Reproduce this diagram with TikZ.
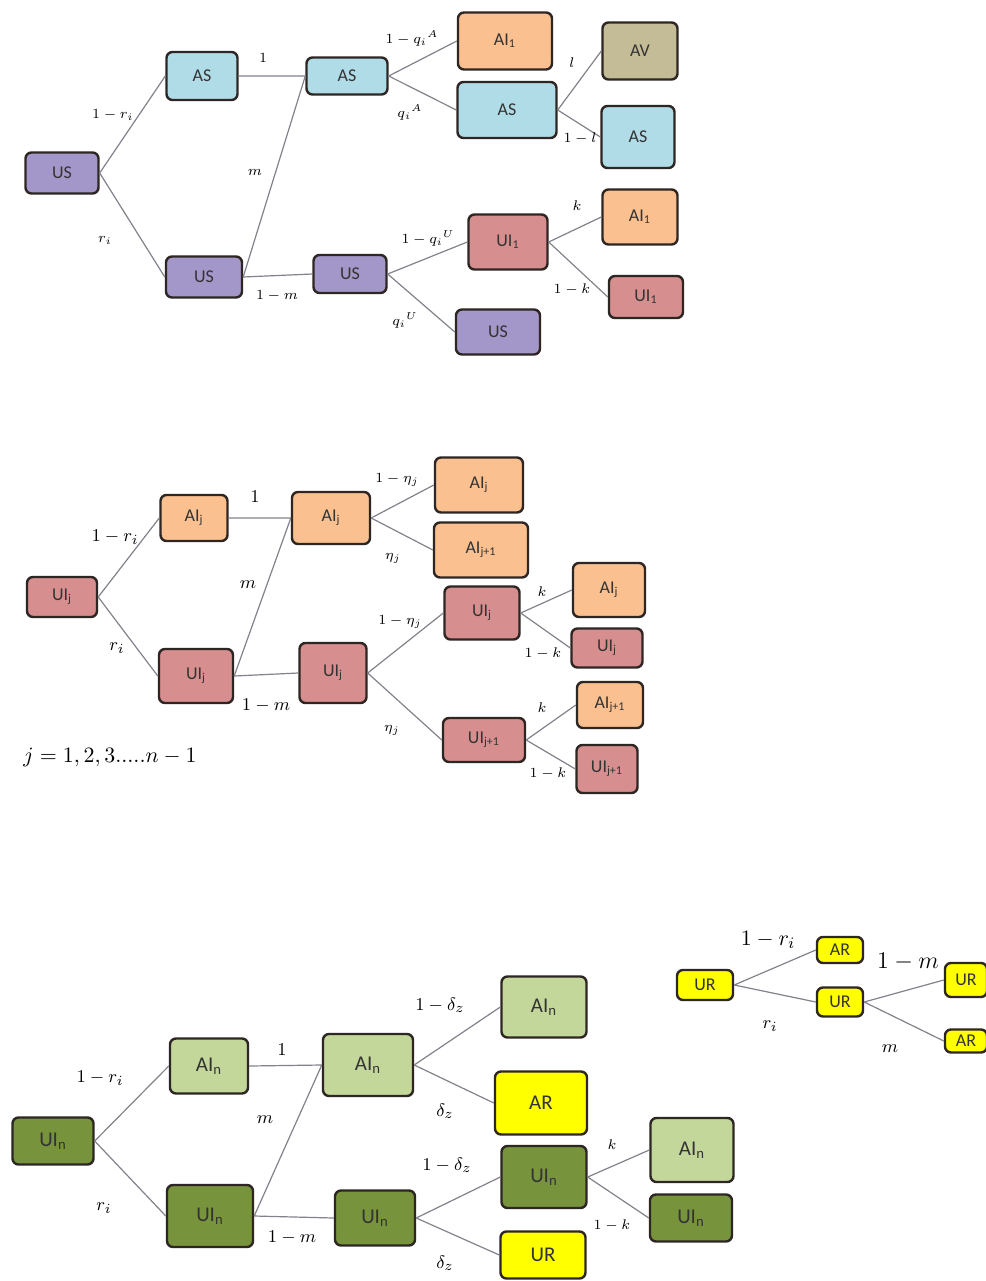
\documentclass[tikz,border=0pt]{standalone}
\usepackage{fontspec}
\setsansfont{Carlito}
\usepackage{amsmath}
\usetikzlibrary{positioning}
\definecolor{usfill}{RGB}{163,150,200}
\definecolor{asfill}{RGB}{176,220,232}
\definecolor{aifill}{RGB}{250,192,144}
\definecolor{uifill}{RGB}{214,142,142}
\definecolor{avfill}{RGB}{196,188,150}
\definecolor{gdfill}{RGB}{119,147,60}
\definecolor{glfill}{RGB}{196,215,155}
\definecolor{yrfill}{RGB}{255,255,0}
\definecolor{edgegray}{RGB}{130,130,140}
\definecolor{boxline}{RGB}{45,38,35}

\tikzset{
  box/.style={draw=boxline, line width=1.2pt, rounded corners=3pt, inner sep=0pt,
    text=black!80, font=\sffamily\fontsize{9}{10}\selectfont},
  sz/.style 2 args={minimum width=#1*0.5pt, minimum height=#2*0.5pt},
  usbox/.style={box, fill=usfill},
  asbox/.style={box, fill=asfill},
  aibox/.style={box, fill=aifill},
  uibox/.style={box, fill=uifill},
  avbox/.style={box, fill=avfill},
  gdbox/.style={box, fill=gdfill, font=\sffamily\fontsize{10.5}{12}\selectfont},
  glbox/.style={box, fill=glfill, font=\sffamily\fontsize{10.5}{12}\selectfont},
  yrbox/.style={box, fill=yrfill, font=\sffamily\fontsize{10.5}{12}\selectfont},
  branch/.style={edgegray, line width=0.6pt},
  lbl/.style={inner sep=0pt, font=\fontsize{7.5}{9}\selectfont},
  biglbl/.style={inner sep=0pt, font=\fontsize{9.5}{11}\selectfont},
}

\begin{document}
\begin{tikzpicture}[x=0.5pt, y=-0.5pt]
  \useasboundingbox (0,0) rectangle (986,1281);
  \fill[white] (0,0) rectangle (986,1281);

  % Susceptible tree
  \node[usbox, sz={73}{41}] (us0) at (62,173) {US};
  \node[asbox, sz={71}{48}] (as1) at (202,76) {AS};
  \node[usbox, sz={76}{41}] (us1) at (204,277) {US};
  \node[asbox, sz={81}{37}] (as2) at (347,76) {AS};
  \node[usbox, sz={73}{38}] (us2) at (350,274) {US};
  \node[aibox, sz={94}{57}] (ai3) at (505,41) {AI\textsubscript{1}};
  \node[asbox, sz={99}{56}] (as3) at (507,110) {AS};
  \node[uibox, sz={79}{55}] (ui3) at (508,242) {UI\textsubscript{1}};
  \node[usbox, sz={84}{45}] (us3) at (498,332) {US};
  \node[avbox, sz={75}{57}] (av4) at (640,51) {AV};
  \node[asbox, sz={73}{62}] (as4) at (638,137) {AS};
  \node[aibox, sz={75}{55}] (ai4) at (640,217) {AI\textsubscript{1}};
  \node[uibox, sz={74}{42}] (ui4) at (646,297) {UI\textsubscript{1}};
  \draw[branch] (us0.east) -- (as1.west) (us0.east) -- (us1.west);
  \draw[branch] (as1.east) -- (as2.west) (us1.east) -- (as2.west) (us1.east) -- (us2.west);
  \draw[branch] (as2.east) -- (ai3.west) (as2.east) -- (as3.west);
  \draw[branch] (us2.east) -- (ui3.west) (us2.east) -- (us3.west);
  \draw[branch] (as3.east) -- (av4.west) (as3.east) -- (as4.west);
  \draw[branch] (ui3.east) -- (ai4.west) (ui3.east) -- (ui4.west);
  \node[lbl] (sa) at (113,115) {$1-r_i$};
  \node[lbl] (sb) at (105,240) {$r_i$};
  \node[lbl] (sc) at (263,58) {$1$};
  \node[lbl] (sd) at (255,172) {$m$};
  \node[lbl] (se) at (277,296) {$1-m$};
  \node[lbl] (sf) at (412,38) {$1-{q_i}^{A}$};
  \node[lbl] (sg) at (410,112) {${q_i}^{A}$};
  \node[lbl] (sh) at (428,238) {$1-{q_i}^{U}$};
  \node[lbl] (si) at (405,320) {${q_i}^{U}$};
  \node[lbl] (sj) at (572,63) {$l$};
  \node[lbl] (sk) at (580,138) {$1-l$};
  \node[lbl] (sl) at (577,206) {$k$};
  \node[lbl] (sm) at (572,289) {$1-k$};

  % Infected tree, stage j
  \node[uibox, sz={70}{40}] (uj0) at (62,597) {UI\textsubscript{j}};
  \node[aibox, sz={67}{46}] (aj1) at (194,518) {AI\textsubscript{j}};
  \node[uibox, sz={74}{54}] (uj1) at (196,676) {UI\textsubscript{j}};
  \node[aibox, sz={78}{52}] (aj2) at (331,518) {AI\textsubscript{j}};
  \node[uibox, sz={67}{60}] (uj2) at (333,673) {UI\textsubscript{j}};
  \node[aibox, sz={88}{55}] (aj3) at (479,485) {AI\textsubscript{j}};
  \node[aibox, sz={94}{55}] (ak3) at (481,550) {AI\textsubscript{j+1}};
  \node[uibox, sz={75}{53}] (uj3) at (482,613) {UI\textsubscript{j}};
  \node[uibox, sz={82}{44}] (uk3) at (484,740) {UI\textsubscript{j+1}};
  \node[aibox, sz={72}{54}] (aj4) at (609,590) {AI\textsubscript{j}};
  \node[uibox, sz={71}{39}] (uj4) at (607,648) {UI\textsubscript{j}};
  \node[aibox, sz={66}{46}] (ak4) at (610,705) {AI\textsubscript{j+1}};
  \node[uibox, sz={61}{48}] (uk4) at (607,769) {UI\textsubscript{j+1}};
  \draw[branch] (uj0.east) -- (aj1.west) (uj0.east) -- (uj1.west);
  \draw[branch] (aj1.east) -- (aj2.west) (uj1.east) -- (aj2.west) (uj1.east) -- (uj2.west);
  \draw[branch] (aj2.east) -- (aj3.west) (aj2.east) -- (ak3.west);
  \draw[branch] (uj2.east) -- (uj3.west) (uj2.east) -- (uk3.west);
  \draw[branch] (uj3.east) -- (aj4.west) (uj3.east) -- (uj4.west);
  \draw[branch] (uk3.east) -- (ak4.west) (uk3.east) -- (uk4.west);
  \node[biglbl] (ja) at (115,537) {$1-r_i$};
  \node[biglbl] (jb) at (117,648) {$r_i$};
  \node[biglbl] (jc) at (255,497) {$1$};
  \node[biglbl] (jd) at (248,585) {$m$};
  \node[biglbl] (je) at (266,706) {$1-m$};
  \node[lbl] (jf) at (397,480) {$1-\eta_j$};
  \node[lbl] (jg) at (393,558) {$\eta_j$};
  \node[lbl] (jh) at (400,622) {$1-\eta_j$};
  \node[lbl] (ji) at (392,730) {$\eta_j$};
  \node[lbl] (jk) at (542,592) {$k$};
  \node[lbl] (jl) at (543,653) {$1-k$};
  \node[lbl] (jm) at (542,708) {$k$};
  \node[lbl] (jn) at (548,773) {$1-k$};
  \node[inner sep=0pt, font=\fontsize{11}{13}\selectfont] (jrange) at (110,757) {$j=1,2,3.....n-1$};

  % Infected tree, last stage n
  \node[gdbox, sz={81}{47}] (un0) at (53,1141) {UI\textsubscript{n}};
  \node[glbox, sz={78}{55}] (an1) at (209,1066) {AI\textsubscript{n}};
  \node[gdbox, sz={86}{62}] (un1) at (210,1216) {UI\textsubscript{n}};
  \node[glbox, sz={90}{62}] (an2) at (368,1065) {AI\textsubscript{n}};
  \node[gdbox, sz={80}{55}] (un2) at (375,1218) {UI\textsubscript{n}};
  \node[glbox, sz={85}{61}] (an3) at (544,1007) {AI\textsubscript{n}};
  \node[yrbox, sz={92}{63}] (ar3) at (541,1103) {AR};
  \node[gdbox, sz={85}{62}] (un3) at (544,1177) {UI\textsubscript{n}};
  \node[yrbox, sz={85}{47}] (ur3) at (543,1255) {UR};
  \node[glbox, sz={83}{64}] (an4) at (692,1150) {AI\textsubscript{n}};
  \node[gdbox, sz={82}{47}] (un4) at (691,1218) {UI\textsubscript{n}};
  \draw[branch] (un0.east) -- (an1.west) (un0.east) -- (un1.west);
  \draw[branch] (an1.east) -- (an2.west) (un1.east) -- (an2.west) (un1.east) -- (un2.west);
  \draw[branch] (an2.east) -- (an3.west) (an2.east) -- (ar3.west);
  \draw[branch] (un2.east) -- (un3.west) (un2.east) -- (ur3.west);
  \draw[branch] (un3.east) -- (an4.west) (un3.east) -- (un4.west);
  \node[biglbl] (na) at (100,1078) {$1-r_i$};
  \node[biglbl] (nb) at (104,1208) {$r_i$};
  \node[biglbl] (nc) at (282,1050) {$1$};
  \node[biglbl] (nd) at (265,1120) {$m$};
  \node[biglbl] (ne) at (292,1238) {$1-m$};
  \node[biglbl] (nf) at (440,1005) {$1-\delta_z$};
  \node[biglbl] (ng) at (445,1111) {$\delta_z$};
  \node[biglbl] (nh) at (447,1165) {$1-\delta_z$};
  \node[biglbl] (ni) at (445,1263) {$\delta_z$};
  \node[lbl] (nk) at (612,1145) {$k$};
  \node[lbl] (nl) at (612,1225) {$1-k$};

  % Recovered tree
  \node[yrbox, sz={56}{30}, font=\sffamily\fontsize{9}{10}\selectfont] (ur0) at (705,985) {UR};
  \node[yrbox, sz={46}{26}, font=\sffamily\fontsize{9}{10}\selectfont] (ar1) at (840,950) {AR};
  \node[yrbox, sz={46}{29}, font=\sffamily\fontsize{9}{10}\selectfont] (ur1) at (840,1002) {UR};
  \node[yrbox, sz={42}{34}, font=\sffamily\fontsize{9}{10}\selectfont] (ur2) at (966,980) {UR};
  \node[yrbox, sz={42}{23}, font=\sffamily\fontsize{9}{10}\selectfont] (ar2) at (966,1041) {AR};
  \draw[branch] (ur0.east) -- (ar1.west) (ur0.east) -- (ur1.west);
  \draw[branch] (ur1.east) -- (ur2.west) (ur1.east) -- (ar2.west);
  \node[inner sep=0pt, font=\fontsize{11}{13}\selectfont] (ra) at (768,940) {$1-r_i$};
  \node[biglbl] (rb) at (770,1026) {$r_i$};
  \node[inner sep=0pt, font=\fontsize{12}{14}\selectfont] (rc) at (908,962) {$1-m$};
  \node[biglbl] (rd) at (890,1049) {$m$};
\end{tikzpicture}
\end{document}
